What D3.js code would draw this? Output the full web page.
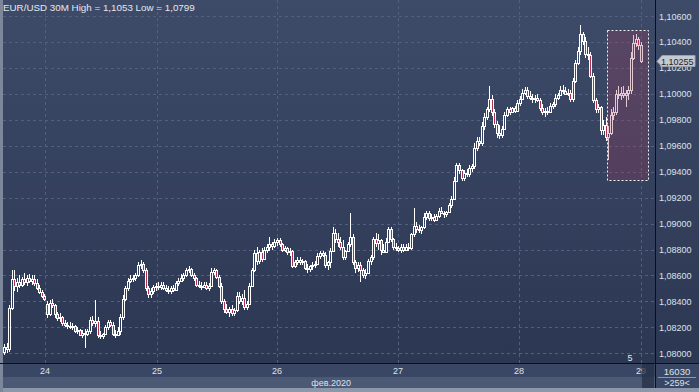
<!DOCTYPE html>
<html><head><meta charset="utf-8">
<script src="https://cdn.jsdelivr.net/npm/d3@7/dist/d3.min.js"></script>
<style>html,body{margin:0;padding:0;background:#2f3b56;overflow:hidden}svg{display:block}</style>
</head><body><svg id="c" width="699" height="392"></svg>
<script>
// EUR/USD 30M candles
const openP = [
1.0801,1.0805,1.0803,1.0835,1.0857,1.0852,1.0855,1.0853,1.0857,1.0855,
1.0858,1.0856,1.0857,1.0854,1.0850,1.0847,1.0844,1.0838,1.0830,1.0839,
1.0837,1.0830,1.0827,1.0828,1.0823,1.0822,1.0821,1.0820,1.0821,1.0817,
1.0818,1.0814,1.0816,1.0815,1.0817,1.0826,1.0823,1.0825,1.0814,1.0813,
1.0815,1.0820,1.0824,1.0822,1.0815,1.0814,1.0817,1.0828,1.0842,1.0850,
1.0856,1.0857,1.0858,1.0860,1.0868,1.0869,1.0864,1.0850,1.0846,1.0848,
1.0851,1.0852,1.0851,1.0853,1.0850,1.0849,1.0848,1.0850,1.0849,1.0854,
1.0856,1.0858,1.0860,1.0864,1.0865,1.0860,1.0858,1.0853,1.0852,1.0851,
1.0853,1.0850,1.0852,1.0863,1.0864,1.0859,1.0852,1.0840,1.0834,1.0832,
1.0834,1.0831,1.0833,1.0844,1.0840,1.0843,1.0836,1.0838,1.0852,1.0864,
1.0877,1.0871,1.0878,1.0873,1.0880,1.0882,1.0884,1.0883,1.0886,1.0887,
1.0884,1.0880,1.0881,1.0878,1.0879,1.0867,1.0870,1.0872,1.0870,1.0871,
1.0866,1.0865,1.0867,1.0868,1.0869,1.0875,1.0877,1.0876,1.0868,1.0870,
1.0879,1.0893,1.0888,1.0886,1.0882,1.0874,1.0879,1.0884,1.0890,1.0870,
1.0866,1.0868,1.0864,1.0860,1.0862,1.0871,1.0874,1.0888,1.0885,1.0887,
1.0880,1.0878,1.0886,1.0896,1.0888,1.0882,1.0881,1.0880,1.0882,1.0880,
1.0882,1.0881,1.0892,1.0898,1.0896,1.0895,1.0897,1.0905,1.0908,1.0904,
1.0905,1.0903,1.0906,1.0910,1.0908,1.0907,1.0909,1.0914,1.0919,1.0933,
1.0945,1.0941,1.0935,1.0939,1.0938,1.0943,1.0944,1.0958,1.0964,1.0962,
1.0975,1.0982,1.0988,1.0996,1.0986,1.0977,1.0970,1.0968,1.0973,1.0984,
1.0988,1.0986,1.0989,1.0987,1.0993,1.0996,1.1001,1.1003,1.0998,1.0997,
1.0996,1.0997,1.0995,1.0989,1.0986,1.0987,1.0986,1.0991,1.0992,1.0997,
1.0999,1.1003,1.1002,1.1000,1.1001,1.0996,1.1010,1.1024,1.1033,1.1046,
1.1041,1.1031,1.1030,1.1014,1.0995,1.0988,1.0990,1.0972,1.0976,1.0967,
1.0970,1.0984,1.0986,1.1000,1.0999,1.1001,1.0999,1.1001,1.1003,1.1028,
1.1039,1.1042,1.1038];
const highP = [
1.0807,1.0808,1.0837,1.0864,1.0864,1.0858,1.0860,1.0859,1.0862,1.0860,
1.0861,1.0860,1.0860,1.0857,1.0853,1.0849,1.0846,1.0840,1.0841,1.0842,
1.0838,1.0832,1.0831,1.0829,1.0826,1.0824,1.0824,1.0823,1.0822,1.0820,
1.0819,1.0818,1.0819,1.0819,1.0828,1.0829,1.0841,1.0828,1.0817,1.0816,
1.0822,1.0826,1.0826,1.0824,1.0818,1.0820,1.0830,1.0845,1.0852,1.0858,
1.0860,1.0860,1.0862,1.0870,1.0872,1.0870,1.0866,1.0852,1.0850,1.0853,
1.0854,1.0855,1.0855,1.0855,1.0853,1.0852,1.0852,1.0853,1.0856,1.0858,
1.0861,1.0862,1.0866,1.0867,1.0866,1.0862,1.0859,1.0856,1.0855,1.0855,
1.0855,1.0854,1.0866,1.0866,1.0865,1.0860,1.0854,1.0842,1.0838,1.0836,
1.0837,1.0835,1.0847,1.0847,1.0846,1.0849,1.0840,1.0854,1.0866,1.0880,
1.0882,1.0880,1.0881,1.0882,1.0884,1.0890,1.0886,1.0888,1.0889,1.0889,
1.0885,1.0883,1.0882,1.0881,1.0880,1.0872,1.0874,1.0874,1.0873,1.0872,
1.0869,1.0868,1.0870,1.0871,1.0877,1.0879,1.0879,1.0878,1.0871,1.0881,
1.0897,1.0896,1.0893,1.0890,1.0887,1.0880,1.0886,1.0908,1.0892,1.0872,
1.0870,1.0870,1.0866,1.0865,1.0873,1.0876,1.0890,1.0893,1.0892,1.0888,
1.0884,1.0889,1.0897,1.0897,1.0889,1.0885,1.0883,1.0884,1.0884,1.0884,
1.0885,1.0893,1.0912,1.0901,1.0899,1.0898,1.0908,1.0910,1.0910,1.0907,
1.0907,1.0907,1.0912,1.0913,1.0910,1.0910,1.0916,1.0921,1.0936,1.0947,
1.0947,1.0942,1.0941,1.0942,1.0945,1.0946,1.0962,1.0967,1.0967,1.0978,
1.0985,1.0990,1.1006,1.0999,1.0988,1.0979,1.0976,1.0975,1.0986,1.0990,
1.0990,1.0990,1.0991,1.0995,1.0998,1.1004,1.1005,1.1005,1.1002,1.1000,
1.0999,1.1000,1.0997,1.0992,1.0989,1.0990,1.0993,1.0994,1.1000,1.1001,
1.1006,1.1007,1.1005,1.1004,1.1003,1.1012,1.1026,1.1036,1.1053,1.1048,
1.1044,1.1036,1.1032,1.1016,1.0997,1.0992,1.0991,1.0980,1.0982,1.0975,
1.0988,1.0990,1.1003,1.1006,1.1005,1.1006,1.1003,1.1006,1.1032,1.1045,
1.1046,1.1044,1.1040];
const lowP = [
1.0799,1.0800,1.0801,1.0833,1.0848,1.0847,1.0850,1.0851,1.0853,1.0852,
1.0854,1.0853,1.0852,1.0849,1.0846,1.0843,1.0840,1.0827,1.0829,1.0835,
1.0827,1.0825,1.0824,1.0821,1.0820,1.0819,1.0819,1.0818,1.0816,1.0815,
1.0813,1.0812,1.0804,1.0813,1.0815,1.0821,1.0820,1.0812,1.0811,1.0811,
1.0814,1.0818,1.0820,1.0813,1.0812,1.0813,1.0814,1.0826,1.0840,1.0848,
1.0854,1.0855,1.0856,1.0859,1.0865,1.0862,1.0848,1.0843,1.0843,1.0846,
1.0848,1.0849,1.0849,1.0849,1.0847,1.0846,1.0846,1.0847,1.0848,1.0852,
1.0855,1.0856,1.0859,1.0862,1.0859,1.0856,1.0851,1.0850,1.0849,1.0850,
1.0849,1.0848,1.0851,1.0860,1.0857,1.0850,1.0838,1.0831,1.0830,1.0828,
1.0829,1.0829,1.0832,1.0838,1.0837,1.0833,1.0833,1.0837,1.0851,1.0863,
1.0868,1.0869,1.0870,1.0872,1.0877,1.0879,1.0880,1.0881,1.0883,1.0882,
1.0878,1.0878,1.0876,1.0875,1.0866,1.0866,1.0868,1.0868,1.0868,1.0864,
1.0862,1.0863,1.0864,1.0866,1.0868,1.0873,1.0874,1.0866,1.0864,1.0866,
1.0878,1.0885,1.0882,1.0880,1.0872,1.0872,1.0878,1.0882,1.0868,1.0862,
1.0863,1.0855,1.0858,1.0857,1.0861,1.0868,1.0872,1.0882,1.0880,1.0876,
1.0877,1.0877,1.0885,1.0886,1.0880,1.0879,1.0878,1.0877,1.0878,1.0879,
1.0879,1.0880,1.0890,1.0893,1.0893,1.0892,1.0896,1.0903,1.0902,1.0902,
1.0901,1.0902,1.0904,1.0907,1.0904,1.0905,1.0908,1.0912,1.0918,1.0932,
1.0938,1.0933,1.0933,1.0936,1.0936,1.0940,1.0942,1.0956,1.0960,1.0960,
1.0972,1.0980,1.0986,1.0983,1.0974,1.0966,1.0965,1.0966,1.0972,1.0982,
1.0984,1.0985,1.0985,1.0986,1.0991,1.0995,1.0999,1.0996,1.0995,1.0993,
1.0993,1.0994,1.0987,1.0984,1.0982,1.0984,1.0985,1.0988,1.0990,1.0995,
1.0998,1.1000,1.0999,1.0998,1.0994,1.0994,1.1008,1.1022,1.1030,1.1038,
1.1028,1.1026,1.1012,1.0993,1.0985,1.0985,1.0968,1.0968,1.0964,1.0949,
1.0968,1.0980,1.0984,1.0996,1.0995,1.0997,1.0990,1.0995,1.1000,1.1026,
1.1036,1.1034,1.1024];
const closeP = [
1.0805,1.0803,1.0835,1.0857,1.0852,1.0855,1.0853,1.0857,1.0855,1.0858,
1.0856,1.0857,1.0854,1.0850,1.0847,1.0844,1.0842,1.0830,1.0839,1.0837,
1.0830,1.0827,1.0828,1.0823,1.0822,1.0821,1.0820,1.0821,1.0817,1.0818,
1.0814,1.0816,1.0815,1.0817,1.0826,1.0823,1.0825,1.0814,1.0813,1.0815,
1.0820,1.0824,1.0822,1.0815,1.0814,1.0817,1.0828,1.0842,1.0850,1.0856,
1.0857,1.0858,1.0860,1.0868,1.0869,1.0864,1.0850,1.0846,1.0848,1.0851,
1.0852,1.0851,1.0853,1.0850,1.0849,1.0848,1.0850,1.0849,1.0854,1.0856,
1.0858,1.0860,1.0864,1.0865,1.0860,1.0858,1.0853,1.0852,1.0851,1.0853,
1.0850,1.0852,1.0863,1.0864,1.0859,1.0852,1.0840,1.0834,1.0832,1.0834,
1.0831,1.0833,1.0844,1.0840,1.0843,1.0836,1.0838,1.0852,1.0864,1.0877,
1.0871,1.0878,1.0873,1.0880,1.0882,1.0884,1.0883,1.0886,1.0887,1.0884,
1.0880,1.0881,1.0878,1.0879,1.0867,1.0870,1.0872,1.0870,1.0871,1.0866,
1.0865,1.0867,1.0868,1.0869,1.0875,1.0877,1.0876,1.0868,1.0870,1.0879,
1.0893,1.0888,1.0886,1.0882,1.0874,1.0879,1.0884,1.0890,1.0870,1.0866,
1.0868,1.0864,1.0860,1.0862,1.0871,1.0874,1.0888,1.0885,1.0887,1.0880,
1.0878,1.0886,1.0896,1.0888,1.0882,1.0881,1.0880,1.0882,1.0880,1.0882,
1.0881,1.0892,1.0898,1.0896,1.0895,1.0897,1.0905,1.0908,1.0904,1.0905,
1.0903,1.0906,1.0910,1.0908,1.0907,1.0909,1.0914,1.0919,1.0933,1.0945,
1.0941,1.0935,1.0939,1.0938,1.0943,1.0944,1.0958,1.0964,1.0962,1.0975,
1.0982,1.0988,1.0996,1.0986,1.0977,1.0970,1.0968,1.0973,1.0984,1.0988,
1.0986,1.0989,1.0987,1.0993,1.0996,1.1001,1.1003,1.0998,1.0997,1.0996,
1.0997,1.0995,1.0989,1.0986,1.0987,1.0986,1.0991,1.0992,1.0997,1.0999,
1.1003,1.1002,1.1000,1.1001,1.0996,1.1010,1.1024,1.1033,1.1046,1.1041,
1.1031,1.1030,1.1014,1.0995,1.0988,1.0990,1.0972,1.0976,1.0967,1.0970,
1.0984,1.0986,1.1000,1.0999,1.1001,1.0999,1.1001,1.1003,1.1028,1.1039,
1.1042,1.1038,1.10255];

const dayLabels = ["24","25","26","27","28","29"];
const dayTickIdx = [16.2, 60.5, 108, 155.9, 203.7, 252];
const priceTicks = [1.080,1.082,1.084,1.086,1.088,1.090,1.092,1.094,1.096,1.098,1.100,1.102,1.104,1.106];
const titleText = "EUR/USD 30M High = 1,1053 Low = 1,0799";
const monthLabel = "фев.2020";
const zoneBox = {i0: 238.6, i1: 254.6, pTop: 1.10492, pBot: 1.09336};
const lastPrice = 1.10255;
const infoTop = "16030", infoBottom = ">259<", markerLabel = "5";

const W = 699, H = 392;
const P = {l: 3, r: 655, t: 0, b: 363};
const N = closeP.length;
const svg = d3.select("#c");
const font = "'Liberation Sans', Arial, sans-serif";
const txtCol = "#dde2ea";

const defs = svg.append("defs");
const g1 = defs.append("linearGradient").attr("id","bg").attr("gradientUnits","userSpaceOnUse")
  .attr("x1",0).attr("y1",0).attr("x2",0).attr("y2",P.b);
g1.append("stop").attr("offset","0%").attr("stop-color","#3d4b69");
g1.append("stop").attr("offset","100%").attr("stop-color","#2c3752");

svg.append("rect").attr("width",W).attr("height",H).attr("fill","#3a4764");
svg.append("rect").attr("x",0).attr("y",0).attr("width",W).attr("height",P.b).attr("fill","url(#bg)");

const x = d3.scaleLinear().domain([0, N-1]).range([4, 641]);
const y = d3.scaleLinear().domain([1.080, 1.106]).range([353.3, 16]);

// grid
const grid = svg.append("g").attr("stroke","#51607e").attr("stroke-width",1).attr("stroke-dasharray","3,3");
grid.selectAll("line.h").data(priceTicks).join("line")
  .attr("x1",P.l).attr("x2",P.r).attr("y1",d=>Math.round(y(d))+0.5).attr("y2",d=>Math.round(y(d))+0.5);
grid.selectAll("line.v").data(dayTickIdx).join("line")
  .attr("x1",d=>Math.round(x(d))+0.5).attr("x2",d=>Math.round(x(d))+0.5).attr("y1",P.t).attr("y2",P.b);

// candles
const cg = svg.append("g");
d3.range(N).forEach(i => {
  const c = Math.round(x(i));
  const o = openP[i], cl = closeP[i];
  let top = Math.round(y(Math.max(o, cl))), bot = Math.round(y(Math.min(o, cl)));
  if (bot - top < 1) bot = top + 1;
  const yh = Math.round(y(highP[i])), yl = Math.round(y(lowP[i]));
  if (yh < top) cg.append("line").attr("x1",c+0.5).attr("x2",c+0.5).attr("y1",yh).attr("y2",top).attr("stroke","#ffffff");
  if (yl > bot + 1) cg.append("line").attr("x1",c+0.5).attr("x2",c+0.5).attr("y1",bot+1).attr("y2",yl).attr("stroke","#ffffff");
  cg.append("rect").attr("x",c-0.5).attr("y",top+0.5).attr("width",2).attr("height",bot-top)
    .attr("fill", cl < o ? "#b0304f" : "none").attr("stroke","#ffffff").attr("stroke-width",1);
});

// highlighted zone
svg.append("rect")
  .attr("x", Math.round(x(zoneBox.i0))+0.5).attr("y", Math.round(y(zoneBox.pTop))+0.5)
  .attr("width", Math.round(x(zoneBox.i1)) - Math.round(x(zoneBox.i0)))
  .attr("height", Math.round(y(zoneBox.pBot)) - Math.round(y(zoneBox.pTop)))
  .attr("fill","rgba(160,60,95,0.28)").attr("stroke","#f2f2f2").attr("stroke-width",1).attr("stroke-dasharray","2,2");

// marker "5"
svg.append("text").attr("x",630).attr("y",361).attr("text-anchor","middle")
  .attr("font-family",font).attr("font-size",9).attr("fill","#e8ecf2").text(markerLabel);

// title
svg.append("text").attr("x",3).attr("y",11).attr("font-family",font).attr("font-size",9.8)
  .attr("fill","#e4e8ef").text(titleText);

// bottom bands
svg.append("rect").attr("x",0).attr("y",P.b).attr("width",W).attr("height",H-P.b).attr("fill","#3a4764");
svg.append("rect").attr("x",P.l).attr("y",377).attr("width",P.r-P.l).attr("height",11).attr("fill","#4b5975");
svg.append("rect").attr("x",0).attr("y",388).attr("width",W).attr("height",4).attr("fill","#8c97aa");
svg.append("rect").attr("x",0).attr("y",0).attr("width",3).attr("height",H).attr("fill","#7c879b");

// axis lines
svg.append("line").attr("x1",0).attr("x2",W).attr("y1",P.b+0.5).attr("y2",P.b+0.5).attr("stroke","#0c0f16");
svg.append("line").attr("x1",P.r+0.5).attr("x2",P.r+0.5).attr("y1",0).attr("y2",388).attr("stroke","#0c0f16");

// day labels
svg.selectAll("text.day").data(dayLabels).join("text").attr("class","day")
  .attr("x",(d,i)=>x(dayTickIdx[i])).attr("y",374).attr("text-anchor","middle")
  .attr("font-family",font).attr("font-size",9).attr("fill",txtCol).text(d=>d);
svg.append("text").attr("x",351).attr("y",386).attr("text-anchor","end")
  .attr("font-family",font).attr("font-size",9).attr("fill",txtCol).text(monthLabel);
// scroll block
svg.append("rect").attr("x",642).attr("y",364).attr("width",12).attr("height",24).attr("fill","rgba(38,48,70,0.75)");

// y labels (the last-price tag is placed over the nearest one, as in the reference)
const fmt = d => d3.format(".5f")(d).replace(".", ",");
const ly = Math.round(y(lastPrice));
svg.selectAll("text.yl").data(priceTicks).join("text").attr("class","yl")
  .attr("x",659).attr("y",d=>y(d)+3.5).attr("font-family",font).attr("font-size",9)
  .attr("fill",txtCol).text(fmt);

// last price tag
svg.append("path").attr("d",`M657,${ly+0.5} L662,${ly-5.5} L695,${ly-5.5} L695,${ly+5.5} L662,${ly+5.5} Z`)
  .attr("fill","#c5c9d0").attr("stroke","#9aa1ad");
svg.append("text").attr("x",661).attr("y",ly+3.5).attr("font-family",font).attr("font-size",9)
  .attr("fill","#1e2430").text(fmt(lastPrice));

// info box
svg.append("text").attr("x",677).attr("y",375).attr("text-anchor","middle").attr("font-family",font)
  .attr("font-size",9.5).attr("fill",txtCol).text(infoTop);
svg.append("line").attr("x1",658).attr("x2",696).attr("y1",377.5).attr("y2",377.5).attr("stroke","#8d97a8");
svg.append("text").attr("x",677).attr("y",386).attr("text-anchor","middle").attr("font-family",font)
  .attr("font-size",9).attr("fill",txtCol).text(infoBottom);
</script></body></html>
